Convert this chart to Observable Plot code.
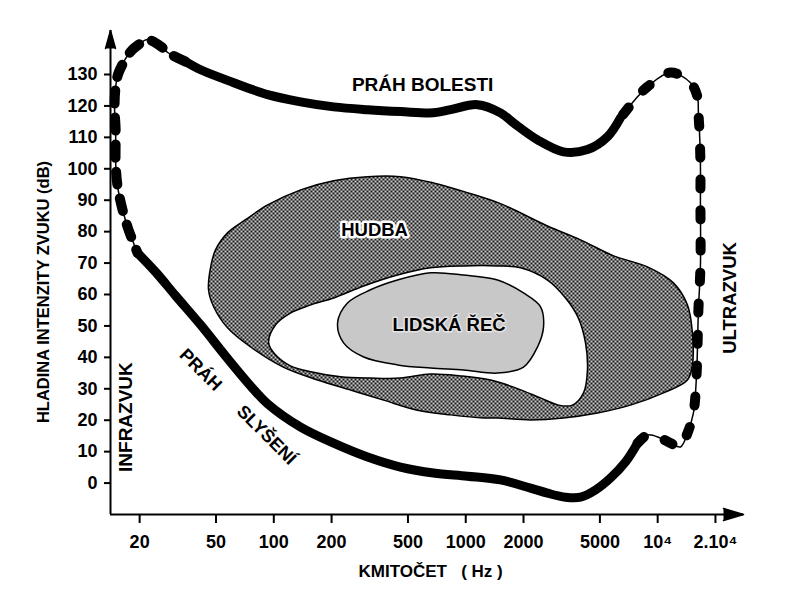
<!DOCTYPE html>
<html>
<head>
<meta charset="utf-8">
<script src="https://cdn.jsdelivr.net/npm/d3@7"></script>
<script src="https://cdn.jsdelivr.net/npm/@observablehq/plot@0.6"></script>
<style>
  body { margin: 0; background: #fff; }
  #chart svg { display: block; }
</style>
</head>
<body>
<svg width="0" height="0" style="position:absolute">
  <defs>
    <pattern id="musicPat" width="4" height="4" patternUnits="userSpaceOnUse">
      <rect width="4" height="4" fill="#cccccc"/>
      <rect x="0" y="0" width="2" height="2" fill="#181818"/>
      <rect x="2" y="2" width="2" height="2" fill="#181818"/>
    </pattern>
    <pattern id="speechPat" width="2" height="2" patternUnits="userSpaceOnUse">
      <rect width="2" height="2" fill="#dcdcdc"/>
      <rect width="1" height="1" fill="#8c8c8c"/>
    </pattern>
  </defs>
</svg>
<div id="chart"></div>
<script>
// ---- scales / ticks ----
const xDomain = [14.1, 28000];
const yDomain = [-10, 144];
const xTicks = [20, 50, 100, 200, 500, 1000, 2000, 5000, 10000, 20000];
const xTickLabels = ["20", "50", "100", "200", "500", "1000", "2000", "5000", "10\u2074", "2.10\u2074"];
const yTicks = [0, 10, 20, 30, 40, 50, 60, 70, 80, 90, 100, 110, 120, 130];

// ---- outer loop: [frequency Hz, level dB] ----
// hearing threshold (thick solid part)
const hearingSolid = [[19.5,73.2],[24.2,67.2],[30.8,59.6],[41.6,50.3],[56.1,40.4],[75.7,30.9],[92.9,25.2],[138,17.8],[205,12.7],[308,8.3],[457,5.1],[679,3.2],[1021,2.2],[1517,1.0],[2175,-1.6],[2667,-3.2],[3311,-4.5],[3962,-4.5],[4742,-2.2],[5678,1.6],[6795,6.7],[7852,12.7]];
// ultrasound border (beaded part)
const ultraBeaded = [[7852,12.7],[8851,15.3],[10350,14.3],[11670,12.7],[13150,11.5],[14300,15.9],[15360,22.3],[15920,33.8],[16110,42.4],[16300,55.1],[16700,68.8],[16700,90.1],[16700,101.9],[16500,112.4],[16300,117.8],[16110,122.9],[14830,127.4],[11670,130.6],[8851,126.1],[7852,122.9],[6397,116.2]];
// pain threshold (thick solid part)
const painSolid = [[6397,116.2],[5477,110.2],[4306,106.1],[3228,105.4],[2366,109.2],[1774,114.6],[1517,117.8],[1151,120.4],[834,118.8],[679,117.8],[457,118.2],[308,118.8],[205,119.7],[138,121.3],[92.9,123.6],[61.8,127.4],[41.6,131.5],[34.7,134.1]];
// infrasound border (beaded part)
const infraBeaded = [[34.7,134.1],[28.0,137.0],[26.35,138.5],[22.0,141.1],[19.76,139.5],[17.96,137.3],[15.55,130.6],[15.0,126.1],[14.8,119.7],[15.0,112.4],[15.0,101.9],[15.36,94.3],[16.3,86.9],[17.5,80.6],[18.6,76.4],[19.5,73.2]];

// ---- regions ----
const music = [[45.7,61.5],[46.9,68.8],[49.7,74.2],[57.4,79.6],[71.3,83.8],[92.9,88.5],[138,93.3],[205,96.2],[308,97.5],[457,97.5],[679,95.5],[1021,92.4],[1517,88.9],[2667,81.8],[3962,77.4],[5888,72.3],[8851,68.8],[12080,63.7],[14290,56.7],[15170,47.8],[15170,37.6],[14290,32.8],[10720,28.7],[7211,24.8],[4855,22.3],[3228,20.7],[2175,20.1],[1465,20.7],[1238,20.7],[834,21.7],[561,23.2],[373,26.4],[251,29.6],[169,32.8],[112,36.9],[75.7,43.3],[57.4,49.4],[48.6,56.1]];
const gapRegion = [[94.0,44.6],[102,50.3],[122,54.1],[156,56.7],[205,58.9],[294,62.7],[441,66.2],[656,68.5],[974,69.1],[1465,69.1],[1929,68.5],[2667,64.6],[3311,58.9],[3864,52.5],[4207,44.6],[4306,36.0],[4107,28.7],[3597,24.8],[3043,24.8],[2453,27.1],[1817,30.3],[1347,32.8],[940,34.1],[656,34.7],[457,33.4],[319,33.4],[223,33.8],[156,35.4],[122,37.3],[102,40.8]];
const speech = [[215,51.0],[242,57.3],[319,61.5],[441,64.6],[656,66.9],[974,66.2],[1465,64.6],[2000,60.5],[2453,56.1],[2543,49.7],[2366,43.3],[2000,36.9],[1465,35.0],[974,36.0],[656,36.6],[441,37.6],[294,40.1],[231,44.6]];

// ---- labels ----
const labelPain = [{t: "PRÁH BOLESTI", f: 596, db: 126.8}];
const labelMusic = [{t: "HUDBA", f: 335, db: 80.6}];
const labelSpeech = [{t: "LIDSKÁ ŘEČ", f: 819, db: 50.3}];
const labelUltra = [{t: "ULTRAZVUK", f: 23900, db: 58.9}];
const labelInfra = [{t: "INFRAZVUK", f: 16.9, db: 21.0}];
const labelHearing = [{t: "PRÁH", f: 41.6, db: 36.0}, {t: "SLYŠENÍ", f: 91.7, db: 15.3}];
const titleY = [{t: "HLADINA INTENZITY ZVUKU (dB)", f: 6.3, db: 60.8}];
const titleX = [{t: "KMITOČET\u00a0\u00a0\u00a0(\u00a0Hz\u00a0)", f: 656, db: -28.0}];

const loop = hearingSolid.concat(ultraBeaded.slice(1), painSolid.slice(1), infraBeaded.slice(1, -1));

const font = "'Liberation Sans', Arial, Helvetica, sans-serif";
const X = d => d[0], Y = d => d[1];
const txt = (data, opts) => Plot.text(data, Object.assign({x: "f", y: "db", text: "t", fontSize: 18.5, fontWeight: "bold", fontFamily: font, fill: "black"}, opts));

const chart = Plot.plot({
  width: 800,
  height: 599,
  marginLeft: 110,
  marginRight: 57,
  marginTop: 30,
  marginBottom: 85,
  x: {type: "log", domain: xDomain},
  y: {domain: yDomain},
  style: {fontFamily: font, fontWeight: "bold", fontSize: "18px", color: "black", background: "white"},
  marks: [
    Plot.line(music, {x: X, y: Y, curve: "catmull-rom-closed", fill: "url(#musicPat)", stroke: "black", strokeWidth: 1.5}),
    Plot.line(gapRegion, {x: X, y: Y, curve: "catmull-rom-closed", fill: "white", stroke: "black", strokeWidth: 1.5}),
    Plot.line(speech, {x: X, y: Y, curve: "catmull-rom-closed", fill: "url(#speechPat)", stroke: "black", strokeWidth: 1.5}),
    Plot.line(loop, {x: X, y: Y, curve: "catmull-rom-closed", stroke: "black", strokeWidth: 1.5}),
    Plot.line(hearingSolid, {x: X, y: Y, curve: "catmull-rom", stroke: "black", strokeWidth: 9, strokeLinecap: "round"}),
    Plot.line(painSolid, {x: X, y: Y, curve: "catmull-rom", stroke: "black", strokeWidth: 9, strokeLinecap: "round"}),
    Plot.line(ultraBeaded, {x: X, y: Y, curve: "catmull-rom", stroke: "black", strokeWidth: 10, strokeDasharray: "9,22", strokeLinecap: "round"}),
    Plot.line(infraBeaded, {x: X, y: Y, curve: "catmull-rom", stroke: "black", strokeWidth: 10, strokeDasharray: "13,14", strokeLinecap: "round"}),
    Plot.ruleY([yDomain[0]], {stroke: "black", strokeWidth: 2}),
    Plot.ruleX([xDomain[0]], {stroke: "black", strokeWidth: 2}),
    Plot.vector([xDomain[1]], {x: d => d, y: () => yDomain[0], rotate: 90, length: 20, r: 6, shape: "spike", anchor: "end", fill: "black", stroke: "black"}),
    Plot.vector([yDomain[1]], {x: () => xDomain[0], y: d => d, rotate: 0, length: 18, r: 5, shape: "spike", anchor: "end", fill: "black", stroke: "black"}),
    Plot.axisX({ticks: xTicks, tickFormat: () => "", tickSize: 9, label: null, strokeWidth: 2}),
    Plot.text(xTicks, {x: d => d, frameAnchor: "bottom", text: (d, i) => xTickLabels[i], dy: 28, lineAnchor: "middle", textAnchor: "middle", fontSize: 18, fontWeight: "bold", fontFamily: font}),
    Plot.axisY({ticks: yTicks, tickSize: 6, tickPadding: 7, label: null, strokeWidth: 2, fontSize: 18}),
    txt(labelPain, {fontSize: 19}),
    txt(labelMusic, {stroke: "white", strokeWidth: 5}),
    txt(labelSpeech, {stroke: "#e4e4e4", strokeWidth: 3}),
    txt(labelUltra, {rotate: -90, fontSize: 18.5}),
    txt(labelInfra, {rotate: -90, fontSize: 19}),
    txt(labelHearing, {rotate: 45, fontSize: 18}),
    txt(titleY, {rotate: -90, fontSize: 16.5}),
    txt(titleX, {fontSize: 17})
  ]
});
document.getElementById("chart").appendChild(chart);
</script>
</body>
</html>
